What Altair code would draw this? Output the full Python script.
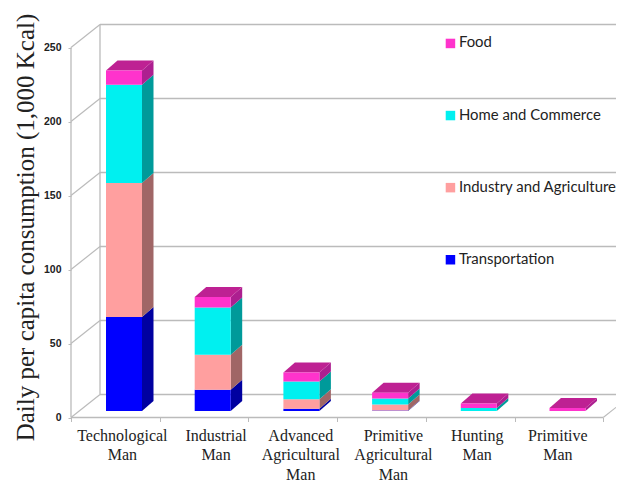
import altair as alt
import pandas as pd

categories = ["Technological\nMan", "Industrial\nMan", "Advanced\nAgricultural\nMan",
              "Primitive\nAgricultural\nMan", "Hunting\nMan", "Primitive\nMan"]
series = ["Food", "Home and Commerce", "Industry and Agriculture", "Transportation"]
transportation = [63.5, 14.4, 1.5, 0.4, 0, 0]
industry = [90.5, 23.6, 6.5, 4, 0, 0]
home = [66.5, 32, 12, 4, 2, 0]
food = [9.5, 7, 6, 4, 3, 2]
y_ticks = [0, 50, 100, 150, 200, 250]
x_ticks = [0, 1, 2, 3, 4, 5, 6]

front_colors = ["#FF33CC", "#00F0F0", "#FF9F9F", "#0000FF"]
side_colors = {"Food": "#AD1F90", "Home and Commerce": "#009A9A",
               "Industry and Agriculture": "#A06666", "Transportation": "#0000A0"}
top_color = "#BE2193"
GRID = "#BBBBBB"

# layout (pixels)
PAD_L, PAD_T, W, H = 63, 16, 545, 393.5
PX_X, PX_Y = 88.7, 1.48
xmax, ymax = W / PX_X, H / PX_Y
WALL_DX, WALL_DY = 29 / PX_X, 23 / PX_Y
BAR_LEFT, BAR_W = 35 / PX_X, 36 / PX_X
BAR_DX, BAR_DY = 11.5 / PX_X, 10 / PX_Y
BAR_LIFT = 6.5 / PX_Y

x_scale = alt.Scale(domain=[0, xmax], nice=False, zero=False)
y_scale = alt.Scale(domain=[0, ymax], nice=False, zero=False)

front, side, top = [], [], []
stack = {"Transportation": transportation, "Industry and Agriculture": industry,
         "Home and Commerce": home, "Food": food}
for i in range(len(categories)):
    base = BAR_LIFT
    x0 = i + BAR_LEFT
    x1 = x0 + BAR_W
    for name in ["Transportation", "Industry and Agriculture", "Home and Commerce", "Food"]:
        v = stack[name][i]
        if v <= 0:
            continue
        front.append(dict(x=x0, x2=x1, y=base, y2=base + v, series=name))
        key = f"{i}-{name}"
        side.append(dict(x=x1, y=base, y2=base + v, key=key, shade=side_colors[name]))
        side.append(dict(x=x1 + BAR_DX, y=base + BAR_DY, y2=base + v + BAR_DY, key=key, shade=side_colors[name]))
        base += v
    top.append(dict(y=base, x=x0, x2=x1, key=i))
    top.append(dict(y=base + BAR_DY, x=x0 + BAR_DX, x2=x1 + BAR_DX, key=i))

walls = pd.DataFrame([dict(x=WALL_DX, x2=xmax, y=t + WALL_DY) for t in y_ticks])
diag = pd.DataFrame([dict(x=0, x2=WALL_DX, y=t, y2=t + WALL_DY) for t in y_ticks] +
                    [dict(x=x_ticks[-1], x2=min(x_ticks[-1] + WALL_DX, xmax), y=0, y2=WALL_DY * min(WALL_DX, xmax - x_ticks[-1]) / WALL_DX)])

grid_x = alt.X("x:Q", scale=x_scale, title=None,
               axis=alt.Axis(values=x_ticks, labels=False, domain=False, grid=False,
                             tickColor=GRID, tickSize=4, tickWidth=1))
grid_y = alt.Y("y:Q", scale=y_scale,
               axis=alt.Axis(values=y_ticks, domain=False, grid=False, tickColor=GRID, tickSize=3,
                             labelFont="Liberation Sans", labelFontWeight="bold", labelFontSize=10.5,
                             labelColor="#222222", labelPadding=7,
                             title="Daily per capita consumption (1,000 Kcal)",
                             titleFont="Liberation Serif", titleFontSize=25, titleFontWeight="normal",
                             titleColor="#222222", titleAngle=270, titleAlign="center",
                             titleBaseline="alphabetic", titleX=-38, titleY=203))

wall_lines = alt.Chart(walls).mark_rule(color=GRID, strokeWidth=1.3).encode(x=grid_x, x2="x2:Q", y=grid_y)
diag_lines = alt.Chart(diag).mark_rule(color=GRID, strokeWidth=1.2).encode(
    x=alt.X("x:Q", scale=x_scale), x2="x2:Q", y=alt.Y("y:Q", scale=y_scale), y2="y2:Q")
left_wall = alt.Chart(pd.DataFrame([dict(x=WALL_DX, y=WALL_DY, y2=y_ticks[-1] + WALL_DY)])).mark_rule(
    color=GRID, strokeWidth=1.3).encode(x=alt.X("x:Q", scale=x_scale), y=alt.Y("y:Q", scale=y_scale), y2="y2:Q")
axis_y = alt.Chart(pd.DataFrame([dict(x=0, y=0, y2=y_ticks[-1])])).mark_rule(
    color=GRID, strokeWidth=1.3).encode(x=alt.X("x:Q", scale=x_scale), y=alt.Y("y:Q", scale=y_scale), y2="y2:Q")
axis_x = alt.Chart(pd.DataFrame([dict(x=0, x2=x_ticks[-1], y=0)])).mark_rule(
    color=GRID, strokeWidth=1.3).encode(x=alt.X("x:Q", scale=x_scale), x2="x2:Q", y=alt.Y("y:Q", scale=y_scale))

sides = alt.Chart(pd.DataFrame(side)).mark_area(interpolate="linear").encode(
    x=alt.X("x:Q", scale=x_scale), y=alt.Y("y:Q", scale=y_scale), y2="y2:Q",
    detail="key:N", fill=alt.Fill("shade:N", scale=None, legend=None))
tops = alt.Chart(pd.DataFrame(top)).mark_area(orient="horizontal", color=top_color, interpolate="linear").encode(
    y=alt.Y("y:Q", scale=y_scale), x=alt.X("x:Q", scale=x_scale), x2="x2:Q", detail="key:N")
fronts = alt.Chart(pd.DataFrame(front)).mark_rect().encode(
    x=alt.X("x:Q", scale=x_scale), x2="x2:Q",
    y=alt.Y("y:Q", scale=y_scale), y2="y2:Q",
    color=alt.Color("series:N", scale=alt.Scale(domain=series, range=front_colors),
                    legend=alt.Legend(orient="none", legendX=372, legendY=12, title=None,
                                      symbolType="square", symbolSize=90, symbolStrokeWidth=0,
                                      labelFont="Lato", labelFontSize=14.9, labelColor="#222222",
                                      rowPadding=56.1, labelOffset=1, labelLimit=220)))

label_shift = [-4, 1, -3, 1, -4, -12]
labels = pd.DataFrame([dict(x=i + 0.5 + 11 / PX_X + label_shift[i] / PX_X, y=0, t=c)
                       for i, c in enumerate(categories)])
xlabels = alt.Chart(labels).mark_text(
    font="Liberation Serif", fontSize=16, color="#222222", lineBreak="\n", baseline="top",
    dy=10, lineHeight=19.5).encode(x=alt.X("x:Q", scale=x_scale), y=alt.Y("y:Q", scale=y_scale), text="t:N")

chart = alt.layer(wall_lines, diag_lines, left_wall, axis_y, axis_x, sides, tops, fronts, xlabels).properties(
    width=W, height=H,
    autosize=alt.AutoSizeParams(type="none"),
    padding={"left": PAD_L, "top": PAD_T, "right": 0, "bottom": 68},
).configure_view(stroke=None)

chart.save("out.html", embed_options={"renderer": "svg", "actions": False})
